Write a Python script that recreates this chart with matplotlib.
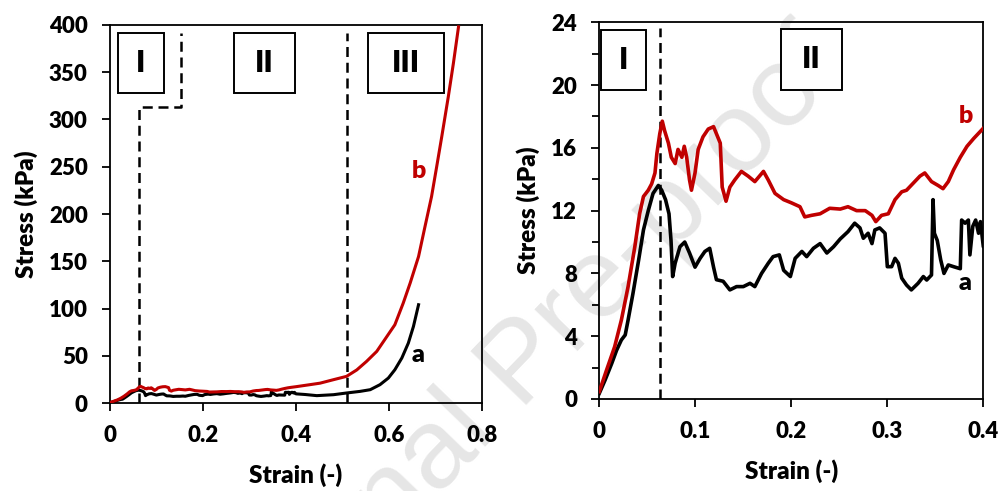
import numpy as np
import matplotlib
matplotlib.use("Agg")
import matplotlib.pyplot as plt
from matplotlib.patches import Rectangle

plt.rcParams['font.family'] = ['Lato', 'DejaVu Sans']
plt.rcParams['font.weight'] = 'heavy'

# Curva a (negra) - deformación y tensión (kPa)
strain_a = [0.0, 0.006, 0.013, 0.018, 0.023, 0.027, 0.030, 0.035, 0.041, 0.046,
            0.051, 0.056, 0.0615, 0.065, 0.069, 0.0726, 0.0747, 0.0764, 0.079, 0.084,
            0.089, 0.094, 0.0997, 0.105, 0.110, 0.115, 0.119, 0.122, 0.129, 0.136,
            0.143, 0.150, 0.157, 0.162, 0.169, 0.176, 0.181, 0.1875, 0.192, 0.199,
            0.204, 0.211, 0.216, 0.223, 0.230, 0.237, 0.244, 0.251, 0.259, 0.266,
            0.2715, 0.275, 0.280, 0.284, 0.287, 0.292, 0.2976, 0.300, 0.3045, 0.308,
            0.3115, 0.315, 0.320, 0.325, 0.332, 0.3375, 0.341, 0.346, 0.3476, 0.349,
            0.352, 0.3556, 0.359, 0.3635, 0.369, 0.376, 0.3774, 0.381, 0.3844, 0.386,
            0.389, 0.392, 0.395, 0.397, 0.400, 0.420, 0.445, 0.481, 0.509, 0.538,
            0.560, 0.581, 0.599, 0.613, 0.628, 0.642, 0.653, 0.664]
stress_a = [0.36, 1.2, 2.27, 3.1, 3.76, 4.08, 5.03, 6.7, 8.86, 10.77,
            12.0, 13.1, 13.6, 13.3, 12.7, 11.8, 10.1, 7.8, 8.65, 9.7,
            10.0, 9.3, 8.4, 8.96, 9.4, 9.6, 8.4, 7.6, 7.5, 6.95,
            7.16, 7.16, 7.37, 7.16, 8.0, 8.65, 9.07, 9.18, 8.2, 7.8,
            8.96, 9.4, 9.07, 9.6, 9.9, 9.3, 9.7, 10.2, 10.66, 11.2,
            10.9, 10.24, 10.56, 9.9, 10.77, 10.9, 10.56, 8.43, 8.43, 8.96,
            8.65, 7.7, 7.26, 6.95, 7.37, 7.8, 7.58, 7.9, 12.7, 10.56,
            10.1, 8.86, 8.0, 8.54, 8.43, 8.3, 11.4, 11.2, 11.4, 9.18,
            11.0, 11.4, 10.56, 11.3, 9.7, 9.0, 7.8, 8.8, 10.6, 12.3,
            14.1, 19.4, 26.4, 35.2, 47.6, 63.4, 81.0, 104.0]

# Curva b (roja)
strain_b = [0.0, 0.0076, 0.016, 0.023, 0.030, 0.037, 0.042, 0.046, 0.051, 0.0545,
            0.058, 0.060, 0.063, 0.0656, 0.068, 0.072, 0.075, 0.079, 0.082, 0.086,
            0.0885, 0.091, 0.094, 0.096, 0.0997, 0.103, 0.108, 0.1135, 0.119, 0.122,
            0.126, 0.128, 0.132, 0.136, 0.141, 0.148, 0.155, 0.162, 0.171, 0.176,
            0.183, 0.192, 0.200, 0.209, 0.214, 0.221, 0.230, 0.240, 0.251, 0.259,
            0.268, 0.277, 0.284, 0.288, 0.294, 0.301, 0.308, 0.315, 0.320, 0.327,
            0.334, 0.339, 0.346, 0.353, 0.358, 0.3635, 0.369, 0.376, 0.383, 0.390,
            0.400, 0.430, 0.452, 0.481, 0.509, 0.531, 0.552, 0.574, 0.596, 0.613,
            0.631, 0.646, 0.664, 0.678, 0.692, 0.703, 0.714, 0.728, 0.739, 0.750]
stress_b = [0.47, 1.85, 3.33, 5.03, 7.16, 9.7, 11.8, 12.9, 13.3, 13.7,
            14.4, 15.65, 16.9, 17.7, 17.1, 16.3, 15.4, 15.0, 15.9, 15.4,
            16.1, 15.4, 13.95, 13.3, 14.4, 15.9, 16.7, 17.2, 17.35, 16.9,
            16.3, 13.5, 12.6, 13.5, 13.95, 14.5, 14.2, 13.85, 14.5, 13.95,
            13.1, 12.7, 12.5, 12.25, 11.6, 11.7, 11.8, 12.15, 12.1, 12.25,
            12.0, 12.0, 11.7, 11.3, 11.7, 11.8, 12.7, 13.2, 13.3, 13.75,
            14.2, 14.4, 13.85, 13.6, 13.4, 13.85, 14.6, 15.4, 16.1, 16.6,
            17.25, 19.4, 21.0, 24.7, 28.2, 35.0, 44.0, 54.6, 70.5, 82.8,
            105.7, 127.0, 155.0, 187.0, 218.5, 250.0, 282.0, 324.0, 359.5, 398.0]

red = '#C00000'
dash = (0, (4.0, 2.3))

fig = plt.figure(figsize=(10.03, 4.91), dpi=100)
ax1 = fig.add_axes([0.1097, 0.1792, 0.3706, 0.7699])
ax2 = fig.add_axes([0.5975, 0.1874, 0.3829, 0.7672])

# marca de agua
fig.text(0.522, 0.255, 'Journal Pre-proof', fontsize=82, color='#e6e6e6',
         rotation=46, ha='center', va='center', family='Liberation Sans',
         weight='normal', zorder=-1)

def region_box(ax, x0, x1, y0, y1, label):
    ax.add_patch(Rectangle((x0, y0), x1 - x0, y1 - y0, facecolor='white',
                           edgecolor='black', lw=1.4, zorder=4))
    ax.text((x0 + x1) / 2, (y0 + y1) / 2, label, ha='center', va='center',
            fontsize=22, weight='heavy', zorder=5)

def style_axes(ax):
    ax.patch.set_alpha(0)
    for s in ax.spines.values():
        s.set_linewidth(1.3)
    ax.tick_params(which='major', direction='out', length=6, width=1.3,
                   labelsize=16, pad=10)
    ax.tick_params(which='minor', direction='out', length=5, width=1.3)
    for lab in ax.get_xticklabels() + ax.get_yticklabels():
        lab.set_fontweight('heavy')
    ax.set_xlabel('Strain (-)', fontsize=17.5, weight='heavy', labelpad=12)
    ax.set_ylabel('Stress (kPa)', fontsize=17.5, weight='heavy', labelpad=8)

# Panel izquierdo
ax1.plot(strain_a, stress_a, color='black', lw=2.2, zorder=3)
ax1.plot(strain_b, stress_b, color=red, lw=2.2, zorder=3)
ax1.plot([0.062, 0.062, 0.153, 0.153], [0, 313, 313, 391], color='black',
         lw=1.8, ls=dash, zorder=2)
ax1.plot([0.509, 0.509], [0, 391], color='black', lw=1.8, ls=dash, zorder=2)
region_box(ax1, 0.017, 0.116, 328, 391.5, 'I')
region_box(ax1, 0.267, 0.398, 328, 391.5, 'II')
region_box(ax1, 0.555, 0.719, 328, 391.5, 'III')
ax1.text(0.665, 246, 'b', color=red, fontsize=18, weight='heavy', ha='center', va='center')
ax1.text(0.663, 51, 'a', color='black', fontsize=18, weight='heavy', ha='center', va='center')
ax1.set_xlim(0, 0.8)
ax1.set_ylim(0, 400)
ax1.set_xticks([0, 0.2, 0.4, 0.6, 0.8])
ax1.set_xticklabels(['0', '0.2', '0.4', '0.6', '0.8'])
ax1.set_yticks(np.arange(0, 401, 50))
style_axes(ax1)

# Panel derecho (zoom)
ax2.plot(strain_a, stress_a, color='black', lw=2.6, zorder=3)
ax2.plot(strain_b, stress_b, color=red, lw=2.6, zorder=3)
ax2.plot([0.0636, 0.0636], [0, 23.65], color='black', lw=1.8, ls=dash, zorder=2)
region_box(ax2, 0.002, 0.049, 19.7, 23.5, 'I')
region_box(ax2, 0.189, 0.2525, 19.7, 23.57, 'II')
ax2.text(0.3817, 18.0, 'b', color=red, fontsize=18, weight='heavy', ha='center', va='center')
ax2.text(0.381, 7.37, 'a', color='black', fontsize=18, weight='heavy', ha='center', va='center')
ax2.set_xlim(0, 0.4)
ax2.set_ylim(0, 24)
ax2.set_xticks([0, 0.1, 0.2, 0.3, 0.4])
ax2.set_xticklabels(['0', '0.1', '0.2', '0.3', '0.4'])
ax2.set_yticks(np.arange(0, 25, 4))
ax2.set_yticks(np.arange(2, 24, 4), minor=True)
style_axes(ax2)

fig.savefig('out.png', dpi=100)
